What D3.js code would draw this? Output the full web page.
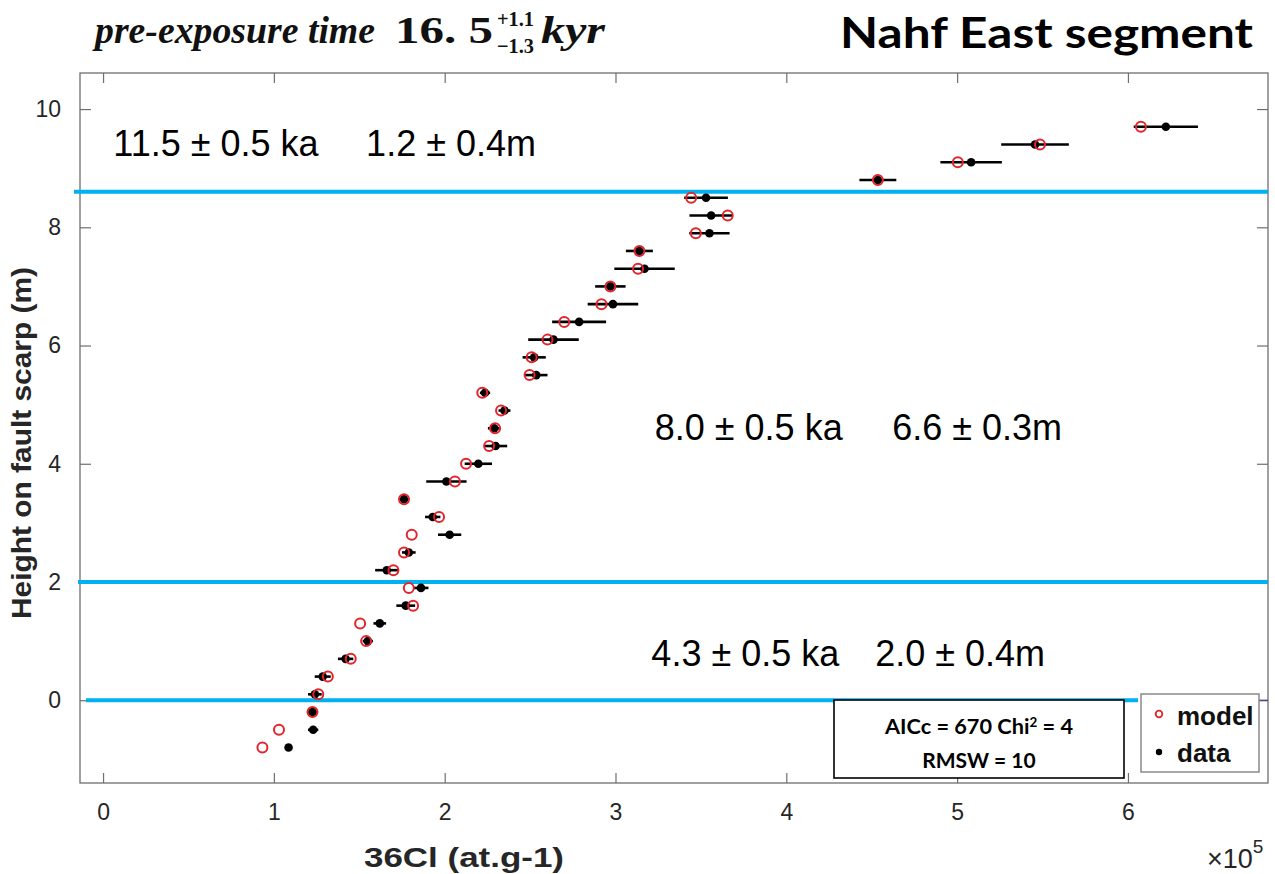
<!DOCTYPE html>
<html>
<head>
<meta charset="utf-8">
<script src="https://cdn.jsdelivr.net/npm/d3@7/dist/d3.min.js"></script>
<style>
  html, body { margin: 0; padding: 0; background: #fff; }
  svg { display: block; }
</style>
</head>
<body>
<svg id="chart" width="1275" height="874"></svg>
<script>
// ---- data (36Cl in units of 1e5 at/g) ----
const heights = [-0.8, -0.5, -0.2, 0.1, 0.4, 0.7, 1.0, 1.3, 1.6, 1.9, 2.2, 2.5, 2.8, 3.1, 3.4, 3.7, 4.0, 4.3,
                 4.6, 4.9, 5.2, 5.5, 5.8, 6.1, 6.4, 6.7, 7.0, 7.3, 7.6, 7.9, 8.2, 8.5, 8.8, 9.1, 9.4, 9.7];
const dataCl  = [1.086, 1.23, 1.226, 1.24, 1.286, 1.42, 1.55, 1.62, 1.772, 1.861, 1.661, 1.79, 2.029, 1.93, 1.762, 2.01, 2.197, 2.298,
                 2.29, 2.35, 2.236, 2.536, 2.524, 2.637, 2.787, 2.985, 2.97, 3.17, 3.14, 3.55, 3.56, 3.53, 4.536, 5.082, 5.456, 6.222];
const modelCl = [0.933, 1.03, 1.226, 1.26, 1.316, 1.45, 1.54, 1.505, 1.815, 1.79, 1.70, 1.762, 1.807, 1.967, 1.762, 2.06, 2.125, 2.26,
                 2.295, 2.33, 2.22, 2.497, 2.509, 2.602, 2.70, 2.918, 2.97, 3.132, 3.14, 3.47, 3.657, 3.443, 4.536, 5.004, 5.485, 6.076];
const errCl   = [0.01, 0.03, 0.025, 0.04, 0.047, 0.045, 0.03, 0.037, 0.055, 0.044, 0.068, 0.04, 0.068, 0.045, 0.02, 0.118, 0.08, 0.068,
                 0.037, 0.035, 0.03, 0.066, 0.068, 0.148, 0.158, 0.148, 0.089, 0.177, 0.079, 0.118, 0.127, 0.128, 0.108, 0.18, 0.198, 0.188];

const eventLines = [8.6, 2.0, 0.0];
const eventLabels = [
  {age: "11.5 ± 0.5 ka", slip: "1.2 ± 0.4m", h: 9.2,  xa: 0.06, xs: 1.54},
  {age: "8.0 ± 0.5 ka",  slip: "6.6 ± 0.3m", h: 4.4,  xa: 3.23, xs: 4.62},
  {age: "4.3 ± 0.5 ka",  slip: "2.0 ± 0.4m", h: 0.58, xa: 3.21, xs: 4.52}
];
const xTicks = [0, 1, 2, 3, 4, 5, 6];
const yTicks = [0, 2, 4, 6, 8, 10];

// ---- layout ----
const svg = d3.select("#chart");
const L = 80, R = 1268, T = 73, B = 783;
const x = d3.scaleLinear().domain([-0.135, 6.82]).range([L, R]);
const y = d3.scaleLinear().domain([-1.40, 10.61]).range([B, T]);
const axisColor = "#6e6e6e";
const tickFont = "'Liberation Sans', Arial, sans-serif";

// frame
svg.append("rect").attr("x", L).attr("y", T).attr("width", R - L).attr("height", B - T)
  .attr("fill", "#fff").attr("stroke", axisColor).attr("stroke-width", 1.3);

// axes with inward ticks
const gx = svg.append("g").attr("transform", `translate(0,${B})`)
  .call(d3.axisBottom(x).tickValues(xTicks).tickSizeInner(-10).tickSizeOuter(0).tickPadding(21).tickFormat(d3.format("d")));
const gxTop = svg.append("g").attr("transform", `translate(0,${T})`)
  .call(d3.axisTop(x).tickValues(xTicks).tickSizeInner(-10).tickSizeOuter(0).tickFormat(""));
const gy = svg.append("g").attr("transform", `translate(${L},0)`)
  .call(d3.axisLeft(y).tickValues(yTicks).tickSizeInner(-11).tickSizeOuter(0).tickPadding(19).tickFormat(d3.format("d")));
const gyR = svg.append("g").attr("transform", `translate(${R},0)`)
  .call(d3.axisRight(y).tickValues(yTicks).tickSizeInner(-11).tickSizeOuter(0).tickFormat(""));
[gx, gxTop, gy, gyR].forEach(g => {
  g.select(".domain").remove();
  g.selectAll(".tick line").attr("stroke", axisColor).attr("stroke-width", 1.2);
  g.selectAll(".tick text").attr("fill", "#262626").style("font-family", tickFont).style("font-size", "23px");
});

// event horizon lines
const lineExtents = [[74, R], [78, R], [86, 1138]];
svg.append("g").selectAll("line").data(eventLines).join("line")
  .attr("x1", (d, i) => lineExtents[i][0]).attr("x2", (d, i) => lineExtents[i][1])
  .attr("y1", d => y(d)).attr("y2", d => y(d))
  .attr("stroke", "#00b0f0").attr("stroke-width", 4);
svg.append("line").attr("x1", 1259).attr("x2", R).attr("y1", y(0)).attr("y2", y(0))
  .attr("stroke", "#3a3aa0").attr("stroke-width", 1.2);

// event labels
const annoFont = "'Liberation Sans', Arial, sans-serif";
const ag = svg.append("g").style("font-family", annoFont).style("font-size", "36px").attr("fill", "#000");
eventLabels.forEach(e => {
  ag.append("text").attr("x", x(e.xa)).attr("y", y(e.h)).text(e.age);
  ag.append("text").attr("x", x(e.xs)).attr("y", y(e.h)).text(e.slip);
});

// data
const rows = heights.map((h, i) => ({h, d: dataCl[i], m: modelCl[i], e: errCl[i]}));
const pg = svg.append("g");
pg.selectAll("line.err").data(rows).join("line").attr("class", "err")
  .attr("x1", r => x(r.d - r.e)).attr("x2", r => x(r.d + r.e))
  .attr("y1", r => y(r.h)).attr("y2", r => y(r.h))
  .attr("stroke", "#000").attr("stroke-width", 2.6);
pg.selectAll("circle.dat").data(rows).join("circle").attr("class", "dat")
  .attr("cx", r => x(r.d)).attr("cy", r => y(r.h)).attr("r", 4.3).attr("fill", "#000");
pg.selectAll("circle.mod").data(rows).join("circle").attr("class", "mod")
  .attr("cx", r => x(r.m)).attr("cy", r => y(r.h)).attr("r", 5)
  .attr("fill", "none").attr("stroke", "#e3242b").attr("stroke-width", 2);

// stats box
svg.append("rect").attr("x", 834).attr("y", 700).attr("width", 290).attr("height", 78)
  .attr("fill", "#fff").attr("stroke", "#000").attr("stroke-width", 1.6);
const statFont = "Lato, 'Open Sans', sans-serif";
const st1 = svg.append("text").attr("x", 979).attr("y", 734).attr("text-anchor", "middle")
  .style("font-family", statFont).style("font-weight", "bold").style("font-size", "21px")
  .attr("textLength", 188).attr("lengthAdjust", "spacingAndGlyphs");
st1.append("tspan").text("AICc = 670  Chi");
st1.append("tspan").attr("dy", -7).style("font-size", "13px").text("2");
st1.append("tspan").attr("dy", 7).text(" = 4");
svg.append("text").attr("x", 979).attr("y", 768).attr("text-anchor", "middle")
  .style("font-family", statFont).style("font-weight", "bold").style("font-size", "21px")
  .text("RMSW = 10");

// legend
svg.append("rect").attr("x", 1141).attr("y", 694).attr("width", 118).attr("height", 78)
  .attr("fill", "#fff").attr("stroke", "#8a8a8a").attr("stroke-width", 1.5);
svg.append("circle").attr("cx", 1159).attr("cy", 714).attr("r", 3.3)
  .attr("fill", "none").attr("stroke", "#e3242b").attr("stroke-width", 1.8);
svg.append("circle").attr("cx", 1159).attr("cy", 752).attr("r", 3.2).attr("fill", "#000");
svg.append("text").attr("x", 1177).attr("y", 725).style("font-family", tickFont)
  .style("font-weight", "bold").style("font-size", "26px").attr("fill", "#111").text("model");
svg.append("text").attr("x", 1177).attr("y", 762).style("font-family", tickFont)
  .style("font-weight", "bold").style("font-size", "26px").attr("fill", "#111").text("data");

// axis labels
svg.append("text").attr("transform", "translate(31,443) rotate(-90)").attr("text-anchor", "middle")
  .style("font-family", tickFont).style("font-weight", "bold").style("font-size", "28px").attr("fill", "#262626")
  .attr("textLength", 352).attr("lengthAdjust", "spacingAndGlyphs")
  .text("Height on fault scarp (m)");
svg.append("text").attr("x", 464).attr("y", 867).attr("text-anchor", "middle")
  .style("font-family", tickFont).style("font-weight", "bold").style("font-size", "28px").attr("fill", "#262626")
  .attr("textLength", 200).attr("lengthAdjust", "spacingAndGlyphs")
  .text("36Cl (at.g-1)");
const mult = svg.append("text").attr("x", 1207).attr("y", 868)
  .style("font-family", tickFont).style("font-size", "27px").attr("fill", "#262626");
mult.append("tspan").text("×10");
mult.append("tspan").attr("dy", -15).style("font-size", "19px").text("5");

// title
const serif = "'Liberation Serif', 'DejaVu Serif', serif";
svg.append("text").attr("x", 95).attr("y", 43).style("font-family", serif).style("font-style", "italic")
  .style("font-weight", "bold").style("font-size", "38px").attr("fill", "#111")
  .attr("textLength", 280).attr("lengthAdjust", "spacingAndGlyphs").text("pre-exposure time");
svg.append("text").attr("x", 395).attr("y", 43).style("font-family", serif)
  .style("font-weight", "bold").style("font-size", "38px").attr("fill", "#111")
  .attr("textLength", 98).attr("lengthAdjust", "spacingAndGlyphs").text("16. 5");
svg.append("text").attr("x", 497).attr("y", 26).style("font-family", serif)
  .style("font-weight", "bold").style("font-size", "21px").attr("fill", "#111")
  .attr("textLength", 37).attr("lengthAdjust", "spacingAndGlyphs").text("+1.1");
svg.append("text").attr("x", 497).attr("y", 53).style("font-family", serif)
  .style("font-weight", "bold").style("font-size", "21px").attr("fill", "#111")
  .attr("textLength", 37).attr("lengthAdjust", "spacingAndGlyphs").text("−1.3");
svg.append("text").attr("x", 541).attr("y", 43).style("font-family", serif).style("font-style", "italic")
  .style("font-weight", "bold").style("font-size", "38px").attr("fill", "#111")
  .attr("textLength", 64).attr("lengthAdjust", "spacingAndGlyphs").text("kyr");

svg.append("text").attr("x", 1253).attr("y", 48).attr("text-anchor", "end")
  .style("font-family", "Lato, 'Open Sans', sans-serif").style("font-weight", "bold").style("font-size", "42px")
  .attr("fill", "#000").attr("textLength", 413).attr("lengthAdjust", "spacingAndGlyphs")
  .text("Nahf East segment");
</script>
</body>
</html>
